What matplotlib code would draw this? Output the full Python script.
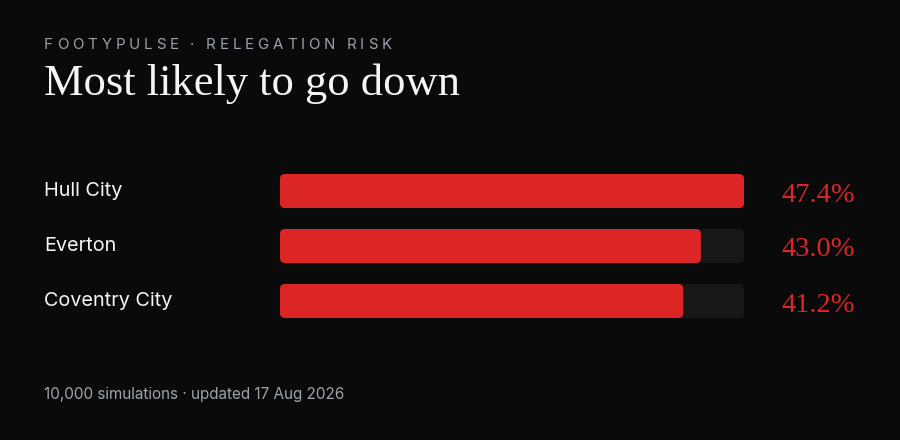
import matplotlib.pyplot as plt
from matplotlib.patches import FancyBboxPatch

teams = ["Hull City", "Everton", "Coventry City"]
risk = [47.4, 43.0, 41.2]
value_labels = ["47.4%", "43.0%", "41.2%"]
kicker = "FOOTYPULSE · RELEGATION RISK"
title = "Most likely to go down"
footer = "10,000 simulations · updated 17 Aug 2026"

BG = "#0a0a0a"
RED = "#dc2626"
TRACK = "#171717"
W, H = 900, 440

fig = plt.figure(figsize=(9, 4.4), dpi=100, facecolor=BG)

# full-figure pixel axes for the text
tx = fig.add_axes([0, 0, 1, 1])
tx.set_xlim(0, W)
tx.set_ylim(H, 0)
tx.axis("off")

# letter-spaced kicker, one char at a time
fig.canvas.draw()
r = fig.canvas.get_renderer()
x = 44
for ch in kicker:
    t = tx.text(x, 45, ch, fontsize=10.8, color="#9ca3af", family="Inter",
                va="center", ha="left")
    w = t.get_window_extent(renderer=r).width
    if ch == " ":
        w = 3.5
    x += w + 3.9

tx.text(44, 84, title, fontsize=32, color="#f5f5f5", family="Liberation Serif",
        va="center", ha="left")
tx.text(44, 395, footer, fontsize=11, color="#9ca3af", family="Inter",
        va="center", ha="left")

# bar axes: rows 55 px apart, centre of first row at y=191
row_px = 55
top = 191 - row_px / 2
bottom = top + row_px * 3
left, right = 280, 744
ax = fig.add_axes([left / W, 1 - bottom / H, (right - left) / W, (bottom - top) / H])
ax.set_xlim(0, max(risk))
ax.set_ylim(2.5, -0.5)
ax.axis("off")

xpx = max(risk) / (right - left)
ypx = 1 / row_px
bh = 34 / row_px
rad = 5 * xpx
aspect = ypx / xpx

for i, (team, v, lab) in enumerate(zip(teams, risk, value_labels)):
    ax.add_patch(FancyBboxPatch((0, i - bh / 2), max(risk), bh,
                                boxstyle=f"round,pad=0,rounding_size={rad}",
                                mutation_aspect=aspect, fc=TRACK, ec="none"))
    ax.add_patch(FancyBboxPatch((0, i - bh / 2), v, bh,
                                boxstyle=f"round,pad=0,rounding_size={rad}",
                                mutation_aspect=aspect, fc=RED, ec="none"))
    ycen = 191 + i * row_px
    tx.text(44, ycen, team, fontsize=14.3, color="#f5f5f5", family="Inter",
            va="center", ha="left")
    tx.text(855, ycen + 4, lab, fontsize=20.5, color=RED, family="Liberation Serif",
            va="center", ha="right")

plt.savefig("out.png", dpi=100, facecolor=BG)
